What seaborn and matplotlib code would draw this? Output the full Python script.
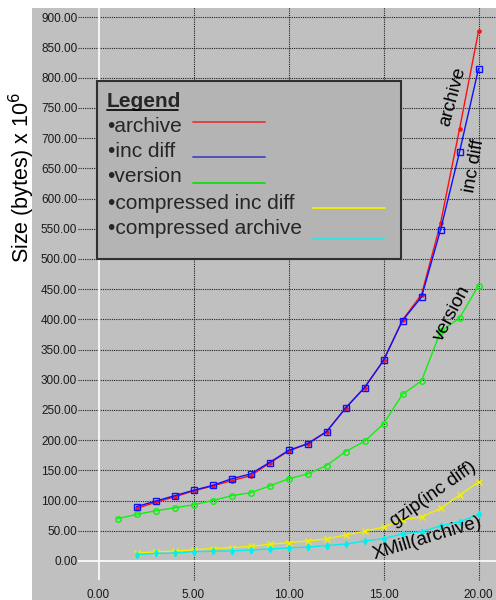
import numpy as np
import pandas as pd
import matplotlib
matplotlib.use('Agg')
import matplotlib.pyplot as plt
import seaborn as sns
from matplotlib.patches import Rectangle
from matplotlib.lines import Line2D

# Data (sizes in bytes x 10^6).
versions = list(range(2, 21))
version_x = list(range(1, 21))
archive = [87, 97, 106, 116, 124, 133, 141, 162, 182, 194, 214, 253, 287, 332, 399, 441, 559, 715, 877]
inc_diff = [90, 99, 108, 117, 125, 136, 144, 163, 183, 194, 214, 253, 287, 332, 398, 437, 548, 677, 815]
version = [70, 77, 83, 88, 93, 100, 108, 113, 124, 136, 144, 158, 181, 198, 227, 276, 298, 380, 402, 456]
gzip_inc_diff = [13, 15, 16.5, 18.5, 20.5, 22, 24, 27.5, 30.5, 33, 36.5, 43, 49, 56, 68, 73, 87, 109, 131]
xmill_archive = [10.5, 12.5, 13, 15.5, 16, 16.5, 18, 20, 21.5, 23, 25.5, 28, 33, 37, 45, 48.5, 58, 65, 77]

x_ticks = [0, 5, 10, 15, 20]
y_ticks = list(range(0, 901, 50))
legend_names = ['archive', 'inc diff', 'version', 'compressed inc diff', 'compressed archive']
legend_colors = ['#e03c3c', '#4848c0', '#10e010', '#f0f000', '#30e8e8']

sns.set_theme(style='white')
plt.rcParams['font.family'] = ['Liberation Sans', 'DejaVu Sans']

fig = plt.figure(figsize=(4.96, 6.0), dpi=100, facecolor='white')
ax = fig.add_axes([32 / 496, 0, 464 / 496, 592 / 600])
ax.set_facecolor('#c0c0c0')
for s in ax.spines.values():
    s.set_visible(False)

ax.set_xlim(-3.5, 20.92)
ax.set_ylim(-64.6, 915.4)

# grid (dotted, starting just right of the y tick labels)
ax.hlines(y_ticks[1:], -1.07, 21, colors='#202020', linestyles=(0, (1, 1)), lw=0.8, zorder=1)
ax.vlines(x_ticks[1:], -32, 930, colors='#202020', linestyles=(0, (1, 1)), lw=0.8, zorder=1)
ax.hlines(0, -1.07, 21, colors='white', lw=1.2, zorder=1.5)
ax.vlines(0, -32, 930, colors='white', lw=1.2, zorder=1.5)

sns.lineplot(x=versions, y=archive, ax=ax, color='#ff1010', lw=1, marker='o',
             markersize=2.5, markeredgecolor='#ff1010', markerfacecolor='#ff1010', zorder=3)
sns.lineplot(x=versions, y=inc_diff, ax=ax, color='#1010ff', lw=1, marker='s',
             markersize=5, markeredgecolor='#1010ff', markerfacecolor='none', mew=1, zorder=3.5)
sns.lineplot(x=version_x, y=version, ax=ax, color='#10f010', lw=1, marker='o',
             markersize=4, markeredgecolor='#10f010', markerfacecolor='none', mew=1, zorder=3)
sns.lineplot(x=versions, y=gzip_inc_diff, ax=ax, color='#f0f000', lw=1, marker='x',
             markersize=4, markeredgecolor='#f0f000', mew=1, zorder=3)
sns.lineplot(x=versions, y=xmill_archive, ax=ax, color='#00f0f0', lw=1, marker='d',
             markersize=3.5, markeredgecolor='#00f0f0', markerfacecolor='#00f0f0', zorder=3)

ax.set_xticks(x_ticks)
ax.set_xticklabels([f'{v:.2f}' for v in x_ticks])
ax.set_yticks(y_ticks)
ax.set_yticklabels([f'{v:.2f}' for v in y_ticks])
ax.tick_params(axis='x', length=0, pad=-8, labelsize=8.5, labelcolor='#1a1a1a')
ax.tick_params(axis='y', length=0, pad=-32.6, labelsize=8.5, labelcolor='#1a1a1a')
ax.set_xlabel('')
ax.set_ylabel('Size (bytes) x 10$^6$', fontsize=15.5, color='black',
              ha='center', va='center')
ax.yaxis.set_label_coords(-0.022, 0.7137)

# curve labels
notes = [('archive', 18.65, 768, 75), ('inc diff', 19.77, 655, 80),
         ('version', 18.63, 410, 62), ('gzip(inc diff)', 17.6, 111, 35),
         ('XMill(archive)', 17.3, 38, 17)]
for txt, xx, yy, rot in notes:
    ax.text(xx, yy, txt, rotation=rot, rotation_mode='anchor', ha='center', va='center',
            fontsize=13.5, color='black', zorder=4)

# hand-drawn legend box
def fx(px):
    return px / 496

def fy(py):
    return 1 - py / 600

box = Rectangle((fx(96.7), fy(259)), fx(401) - fx(96.7), fy(80.7) - fy(259),
                transform=fig.transFigure, facecolor='#b4b4b4', edgecolor='#303030',
                lw=1.5, zorder=5)
ax.add_patch(box)
ax.text(fx(106.7), fy(107), 'Legend', transform=fig.transFigure, fontsize=15,
        fontweight='bold', va='baseline', ha='left', zorder=6)
ax.add_line(Line2D([fx(106.7), fx(177.7)], [fy(109.5), fy(109.5)], transform=fig.transFigure,
                   color='black', lw=1.2, zorder=6))
baselines = [132, 157, 182.3, 209, 234]
line_y = [122.3, 157, 182.7, 208, 239.3]
line_x = [(193.3, 265), (193.3, 265), (193.3, 265), (313.3, 385), (313.3, 385)]
for name, col, b, ly, (x0, x1) in zip(legend_names, legend_colors, baselines, line_y, line_x):
    ax.text(fx(107.5), fy(b), '\u2022' + name, transform=fig.transFigure, fontsize=15,
            va='baseline', ha='left', zorder=6)
    ax.add_line(Line2D([fx(x0), fx(x1)], [fy(ly), fy(ly)], transform=fig.transFigure,
                       color=col, lw=1.3, zorder=6))

fig.savefig('out.png', dpi=100, facecolor='white')
